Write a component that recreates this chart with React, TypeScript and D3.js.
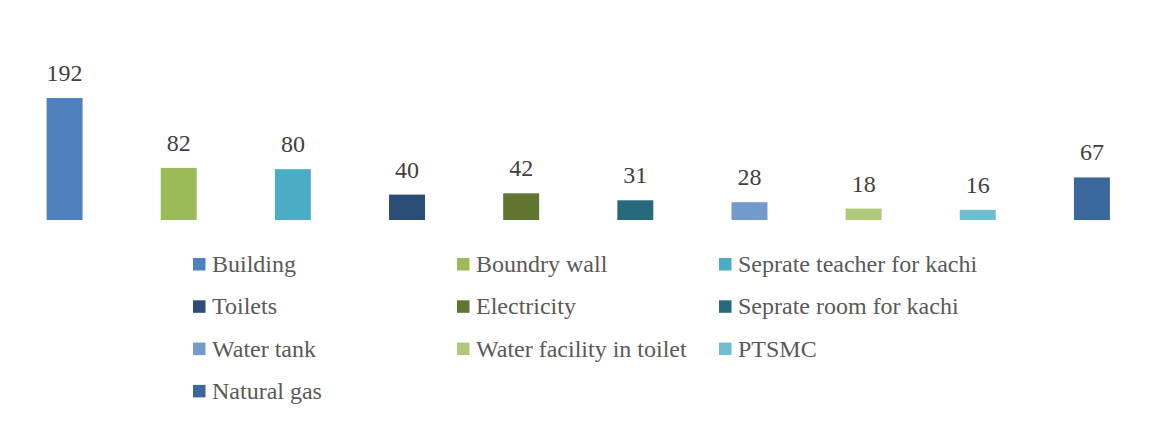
import React from "react";
import * as d3 from "d3";

const categories = [
  "Building",
  "Boundry wall",
  "Seprate teacher for kachi",
  "Toilets",
  "Electricity",
  "Seprate room for kachi",
  "Water tank",
  "Water facility in toilet",
  "PTSMC",
  "Natural gas",
];
const values = [192, 82, 80, 40, 42, 31, 28, 18, 16, 67];
const colors = [
  "#4F81BD",
  "#9BBB59",
  "#4BACC6",
  "#2C4D75",
  "#5F7530",
  "#276A7C",
  "#729ACA",
  "#AFC97A",
  "#6FBDD1",
  "#3A679C",
];

const W = 1151;
const H = 423;
const FONT = '"Liberation Serif", "Times New Roman", serif';

export default function App() {
  const x = d3.scaleBand<string>().domain(categories).range([7.5, 1149]).padding(0);
  const barW = x.bandwidth() * 0.315;
  const baseY = 220;
  const y = d3.scaleLinear().domain([0, 192]).range([baseY, 98]);

  // legend layout: three columns, rows spaced ~42px
  const legendCols = [193, 457, 719];
  const legendBase0 = 272;
  const legendStep = 42.3;

  return (
    <svg width={W} height={H} style={{ position: "absolute", left: 0, top: 0, background: "#fff" }}>
      {categories.map((c, i) => {
        const cx = (x(c) ?? 0) + x.bandwidth() / 2;
        const top = y(values[i]);
        return (
          <g key={c}>
            <rect x={cx - barW / 2} y={top} width={barW} height={baseY - top} fill={colors[i]} />
            <text
              x={cx}
              y={top - 17}
              textAnchor="middle"
              style={{ fontFamily: FONT, fontSize: "24px" }}
              fill="#404040"
            >
              {values[i]}
            </text>
          </g>
        );
      })}
      {categories.map((c, i) => {
        const col = i % 3;
        const row = Math.floor(i / 3);
        const lx = legendCols[col];
        const base = legendBase0 + row * legendStep;
        return (
          <g key={"lg" + c}>
            <rect x={lx} y={base - 14} width={12.5} height={12.5} fill={colors[i]} />
            <text x={lx + 19} y={base} style={{ fontFamily: FONT, fontSize: "24px" }} fill="#595959">
              {c}
            </text>
          </g>
        );
      })}
    </svg>
  );
}
